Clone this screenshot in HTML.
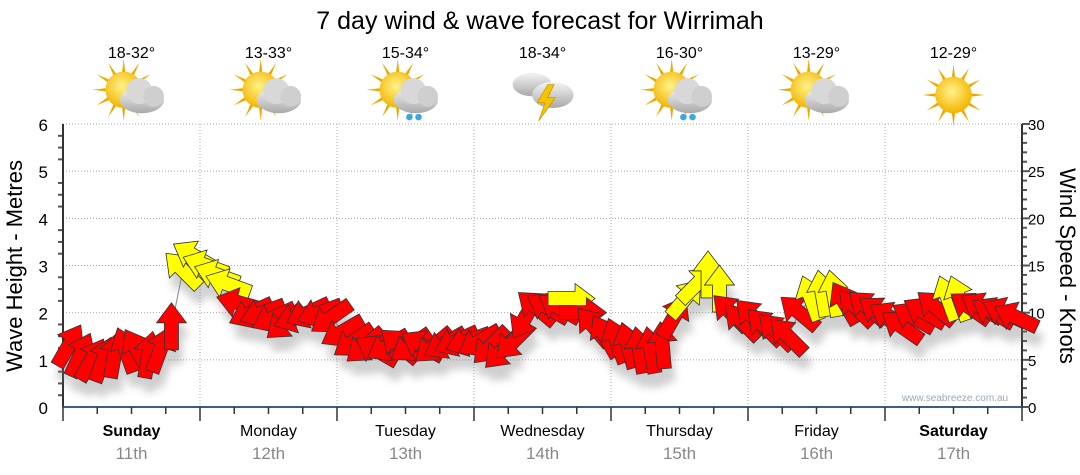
<!DOCTYPE html>
<html><head><meta charset="utf-8"><style>
body{margin:0;background:#fff;}
svg{display:block;font-family:"Liberation Sans","DejaVu Sans",sans-serif;}
</style></head><body>
<svg id="chart" width="1080" height="475" viewBox="0 0 1080 475" xmlns="http://www.w3.org/2000/svg">
<defs>
<filter id="shadow" x="-50%" y="-50%" width="200%" height="200%"><feGaussianBlur stdDeviation="4"/></filter>
<radialGradient id="sunG" cx="0.45" cy="0.4" r="0.6"><stop offset="0" stop-color="#fff38a"/><stop offset="1" stop-color="#f2b400"/></radialGradient>
<linearGradient id="cloudG" x1="0" y1="0" x2="0" y2="1"><stop offset="0" stop-color="#f4f4f4"/><stop offset="1" stop-color="#a9a9a9"/></linearGradient>
</defs>
<text x="540" y="29" text-anchor="middle" font-size="25" fill="#000">7 day wind &amp; wave forecast for Wirrimah</text>
<g id="header"></g>
<g id="grid"></g>
<g id="axes"></g>
<g id="marks"></g>
<text x="955" y="401" text-anchor="middle" font-size="10" fill="#9aa8b8">www.seabreeze.com.au</text>
<text transform="translate(22,266) rotate(-90)" text-anchor="middle" font-size="22" fill="#000">Wave Height - Metres</text>
<text transform="translate(1060,266) rotate(90)" text-anchor="middle" font-size="22" fill="#000">Wind Speed - Knots</text>
</svg>
<script>
const dayNames=["Sunday","Monday","Tuesday","Wednesday","Thursday","Friday","Saturday"];
const dayDates=["11th","12th","13th","14th","15th","16th","17th"];
const dayTemps=["18-32°","13-33°","15-34°","18-34°","16-30°","13-29°","12-29°"];
const dayIcons=["partly","partly","showers","storm","showers","partly","sunny"];
const leftTicks=[0,1,2,3,4,5,6];
const rightTicks=[0,5,10,15,20,25,30];
// wave/wind point heights in metres, every 2 hours
const heights=[1.3,1.1,1.0,1.0,1.1,1.2,1.2,1.1,1.2,1.7,2.9,3.2,
3.0,2.8,2.6,2.2,2.0,2.0,1.9,1.8,1.9,2.0,2.0,1.9,
1.6,1.4,1.3,1.2,1.3,1.3,1.3,1.3,1.3,1.35,1.4,1.4,
1.4,1.3,1.2,1.4,1.9,2.1,2.1,2.1,2.3,2.0,1.7,1.5,
1.4,1.3,1.2,1.2,1.3,1.9,2.3,2.6,2.8,2.5,2.0,1.8,
1.9,1.7,1.6,1.5,2.0,2.3,2.4,2.4,2.2,2.1,2.1,2.0,
1.9,1.7,1.9,2.0,2.1,2.3,2.3,2.1,2.1,2.0,2.0,1.9];
// arrow heading in degrees (0 = up, clockwise)
const directions=[30,25,30,20,10,-20,-30,10,20,0,-45,-60,
-70,-70,-70,-75,-115,-110,-115,-130,-110,-115,-110,-125,
-120,-125,-130,-60,-120,-50,-125,-60,-130,-120,-115,-110,
-120,-135,-135,-135,-150,-50,-60,-60,90,90,-40,-30,
-20,-15,-10,-10,-5,30,40,45,0,0,-45,-45,
-45,-45,-45,-45,-50,-20,-10,-10,-30,-45,-50,-55,
-60,-55,-60,-60,-50,-20,-20,-55,-60,-60,-65,-65];
// gusty (yellow) flags
const gusty=[0,0,0,0,0,0,0,0,0,0,1,1,
1,1,1,0,0,0,0,0,0,0,0,0,
0,0,0,0,0,0,0,0,0,0,0,0,
0,0,0,0,0,0,0,0,1,0,0,0,
0,0,0,0,0,0,1,1,1,1,0,0,
0,0,0,0,0,1,1,1,0,0,0,0,
0,0,0,0,0,1,1,0,0,0,0,0];

const X0=63,X1=1022,Y0=407,Y1=124;
const NS="http://www.w3.org/2000/svg";
const dayW=(X1-X0)/7;
function xPos(i){return X0+(i+0.5)*(X1-X0)/heights.length;}
function yL(v){return Y0-(v/6)*(Y0-Y1);}
function yR(v){return Y0-(v/30)*(Y0-Y1);}
function mk(tag,attrs,parent){const e=document.createElementNS(NS,tag);for(const k in attrs)e.setAttribute(k,attrs[k]);parent.appendChild(e);return e;}

const grid=document.getElementById('grid');
const axes=document.getElementById('axes');
const header=document.getElementById('header');
const marks=document.getElementById('marks');

leftTicks.forEach(v=>{
  if(v>0){const l=mk('line',{x1:X0,x2:X1,y1:yL(v),y2:yL(v),stroke:'#aaa','stroke-dasharray':'1,2'},grid);
  
  }
  const t=mk('text',{x:48,y:yL(v)+7,'text-anchor':'end','font-size':17,fill:'#000'},axes);t.textContent=v;
  
  
});
rightTicks.forEach(v=>{
  const t=mk('text',{x:1028,y:yR(v)+6,'text-anchor':'start','font-size':15,fill:'#000'},axes);t.textContent=v;
  
  
});
for(let k=0;k<=24;k++){
  const y=Y0-k*(Y0-Y1)/24;
  mk('line',{x1:X0-(k%4==0?0:5),x2:X0,y1:y,y2:y,stroke:'#555','stroke-width':2},axes);
}
for(let k=0;k<=30;k++){
  const y=Y0-k*(Y0-Y1)/30;
  mk('line',{x1:X1,x2:X1+(k%5==0?8:5),y1:y,y2:y,stroke:'#555','stroke-width':2},axes);
}
mk('line',{x1:X0,x2:X0,y1:Y1,y2:Y0,stroke:'#333','stroke-width':2},axes);
mk('line',{x1:X1,x2:X1,y1:Y1,y2:Y0,stroke:'#333','stroke-width':2},axes);
mk('line',{x1:X0,x2:X1,y1:Y0,y2:Y0,stroke:'#3a5f86','stroke-width':2},axes);

function icon(cx,cy,type,g0){
  const g=mk('g',{transform:`translate(${cx},${cy}) scale(1.3) translate(${-cx},${-cy})`},g0);
  if(type!=="storm"){
    const sc=type==="sunny"?[cx,cy]:[cx-6,cy-4];
    for(let a=0;a<360;a+=30){const r=a*Math.PI/180;
      mk('polygon',{points:`${sc[0]+Math.cos(r+0.12)*12},${sc[1]+Math.sin(r+0.12)*12} ${sc[0]+Math.cos(r)*24},${sc[1]+Math.sin(r)*24} ${sc[0]+Math.cos(r-0.12)*12},${sc[1]+Math.sin(r-0.12)*12}`,fill:'#f0a800'},g);}
    mk('circle',{cx:sc[0],cy:sc[1],r:14,fill:'url(#sunG)'},g);
  }
  if(type==="partly"||type==="showers"){
    mk('ellipse',{cx:cx+8,cy:cy+4,rx:17,ry:10,fill:'url(#cloudG)'},g);
    mk('circle',{cx:cx+6,cy:cy-3,r:10,fill:'#d8d8d8'},g);
    mk('circle',{cx:cx+17,cy:cy+1,r:8,fill:'#cfcfcf'},g);
    if(type==="showers"){mk('circle',{cx:cx+3,cy:cy+17,r:2.5,fill:'#3aa8e0'},g);mk('circle',{cx:cx+10,cy:cy+17,r:2.5,fill:'#3aa8e0'},g);}
  }
  if(type==="storm"){
    mk('ellipse',{cx:cx-8,cy:cy-8,rx:15,ry:9,fill:'url(#cloudG)'},g);
    mk('ellipse',{cx:cx+8,cy:cy,rx:16,ry:10,fill:'url(#cloudG)'},g);
    mk('polygon',{points:`${cx+4},${cy-8} ${cx-4},${cy+6} ${cx+2},${cy+6} ${cx-3},${cy+20} ${cx+10},${cy+2} ${cx+4},${cy+2} ${cx+9},${cy-8}`,fill:'#f4c400',stroke:'#c89000','stroke-width':0.5},g);
  }
}
for(let d=0;d<7;d++){
  const cx=X0+(d+0.5)*dayW;
  if(d>0){const l=mk('line',{x1:X0+d*dayW,x2:X0+d*dayW,y1:Y1,y2:Y0,stroke:'#aaa','stroke-dasharray':'1,2'},grid);
    
    }
  for(let q=0;q<4;q++){const x=X0+d*dayW+q*dayW/4;mk('line',{x1:x,x2:x,y1:Y0,y2:Y0+(q==0?14:7),stroke:'#333','stroke-width':1.5},axes);}
  const t1=mk('text',{x:cx,y:58,'text-anchor':'middle','font-size':16,fill:'#000'},header);t1.textContent=dayTemps[d];
  
  
  const g=mk('g',{},header);
  
  
  icon(cx,95,dayIcons[d],g);
  const t2=mk('text',{x:cx,y:436,'text-anchor':'middle','font-size':16,fill:'#000','font-weight':(d==0||d==6)?'bold':'normal'},axes);t2.textContent=dayNames[d];
  
  
  const t3=mk('text',{x:cx,y:459,'text-anchor':'middle','font-size':17,fill:'#888'},axes);t3.textContent=dayDates[d];
  
  
}
mk('line',{x1:X1,x2:X1,y1:Y0,y2:Y0+14,stroke:'#333','stroke-width':1.5},axes);

const pts=heights.map((h,i)=>xPos(i)+","+yL(h)).join(" ");
const pl=mk('polyline',{points:pts,fill:'none',stroke:'#888','stroke-width':1},marks);


const shape="0,-24 15,-4 7,-4 7,23 -7,23 -7,-4 -15,-4";
const shadows=mk('g',{filter:'url(#shadow)',opacity:0.35},marks);
heights.forEach((h,i)=>{
  mk('polygon',{points:shape,fill:'#777',transform:`translate(${xPos(i)+4},${yL(h)+14}) rotate(${directions[i]})`},shadows);
});
heights.forEach((h,i)=>{
  const p=mk('polygon',{points:shape,fill:gusty[i]?'#ffff00':'#ff0000',stroke:'#333','stroke-width':0.8,transform:`translate(${xPos(i)},${yL(h)}) rotate(${directions[i]})`},marks);
  
  
});
</script>
</body></html>
